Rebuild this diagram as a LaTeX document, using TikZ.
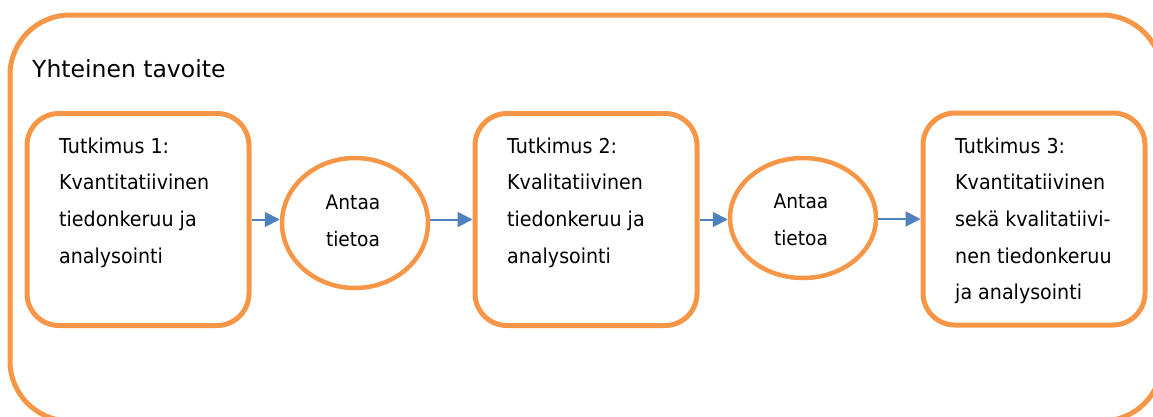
\documentclass[tikz,border=0pt]{standalone}
\usepackage{fontspec}
\setmainfont{DejaVu Sans}
\newfontfamily\narrowsans{DejaVu Sans}[FakeStretch=0.93]
\usetikzlibrary{arrows.meta,shapes.geometric}
\definecolor{frameorange}{HTML}{F79646}
\definecolor{arrowblue}{HTML}{4F81BD}
\begin{document}
\begin{tikzpicture}[x=1pt,y=-1pt,
  stagebox/.style={draw=frameorange,line width=5pt,rectangle,rounded corners=32pt,
    minimum width=222pt,minimum height=212pt,inner sep=0pt},
  infoellipse/.style={draw=frameorange,line width=4.5pt,ellipse,inner sep=0pt},
  bodytext/.style={font=\narrowsans\fontsize{20.5}{36.6}\selectfont,align=left,inner sep=0pt,anchor=north west},
  ellipsetext/.style={font=\narrowsans\fontsize{20}{37}\selectfont,align=center,inner sep=0pt},
  flow/.style={draw=arrowblue,line width=2pt,-{Triangle[length=15pt,width=15pt]}}]
\useasboundingbox (0,0) rectangle (1153,416);
% outer frame, partly running past the page edge
\begin{scope}
  \clip (0,0) rectangle (1153,416);
  \draw[frameorange,line width=5pt,rounded corners=60pt] (10,15) rectangle (1162,421);
\end{scope}
\node[anchor=base west,inner sep=0pt,font=\fontsize{23.5}{28}\selectfont] (title) at (32,77) {Yhteinen tavoite};

% the three studies
\node[stagebox] (b1) at (138,219.5) {};
\node[stagebox] (b2) at (586,219.5) {};
\node[stagebox] (b3) at (1034,219) {};

\node[bodytext] (t1) at (59,137.6) {Tutkimus 1:\\Kvantitatiivinen\\tiedonkeruu ja\\analysointi};
\node[bodytext] (t2) at (507,137.6) {Tutkimus 2:\\Kvalitatiivinen\\tiedonkeruu ja\\analysointi};
\node[bodytext] (t3) at (955,137.6) {Tutkimus 3:\\Kvantitatiivinen\\sekä kvalitatiivi-\\nen tiedonkeruu\\ja analysointi};

% information passed between studies
\node[infoellipse,minimum width=146pt,minimum height=130pt] (e1) at (355,223) {};
\node[infoellipse,minimum width=146pt,minimum height=120pt] (e2) at (803,218) {};
\node[ellipsetext] (a1) at (353,220.5) {Antaa\\tietoa};
\node[ellipsetext] (a2) at (801,219.5) {Antaa\\tietoa};

\draw[flow] (b1.east) -- (e1.west |- b1.east);
\draw[flow] (e1.east |- b2.west) -- (b2.west);
\draw[flow] (b2.east) -- (e2.west |- b2.east);
\draw[flow] (e2.east |- b3.west) -- (b3.west);
\end{tikzpicture}
\end{document}
